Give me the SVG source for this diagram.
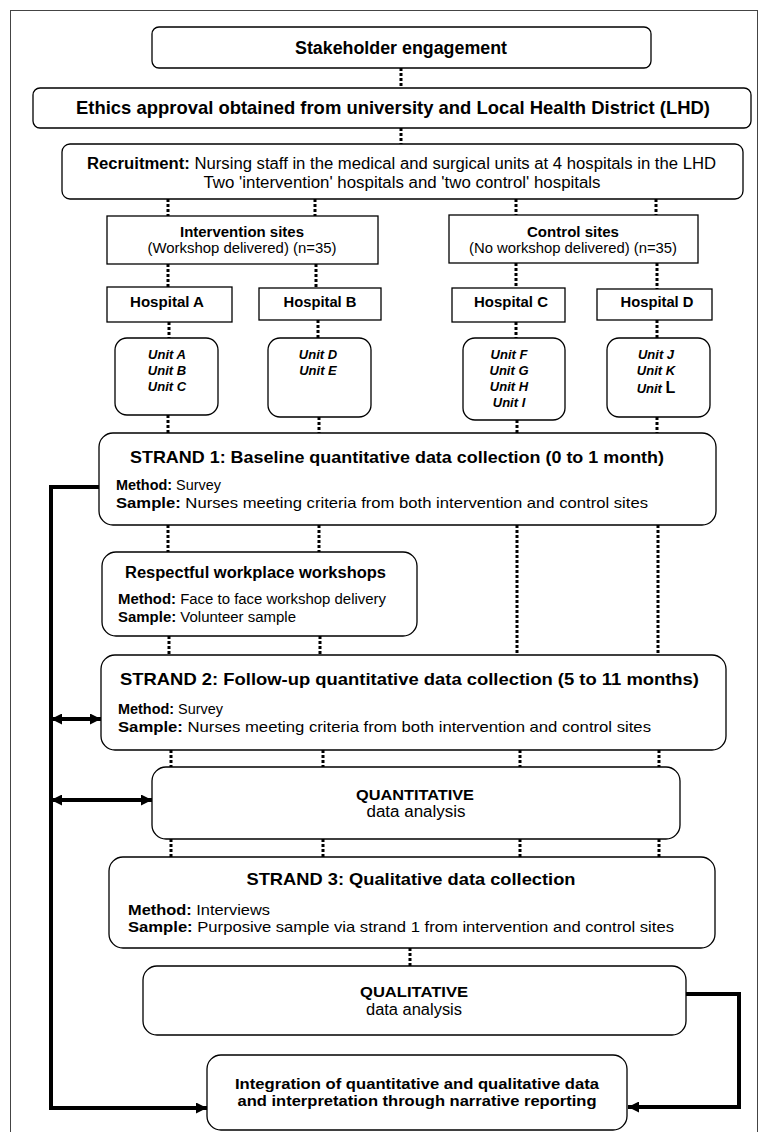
<svg xmlns="http://www.w3.org/2000/svg" width="759" height="1132" viewBox="0 0 759 1132">
<defs>
<style>
text{font-family:"Liberation Sans",Arial,sans-serif;fill:#000}
.b{font-weight:bold}
.bi{font-weight:bold;font-style:italic}
.box{fill:#fff;stroke:#000;stroke-width:1.3}
.dot{stroke:#000;stroke-width:3;stroke-dasharray:3 2;fill:none}
.thick{stroke:#000;stroke-width:4;fill:none}
.m{text-anchor:middle}
</style>
<marker id="ah" viewBox="0 0 10 10" refX="10" refY="5" markerWidth="11" markerHeight="11" markerUnits="userSpaceOnUse" orient="auto-start-reverse">
<path d="M0,0 L10,5 L0,10 z" fill="#000"/>
</marker>
</defs>
<rect x="0" y="0" width="759" height="1132" fill="#fff"/>
<rect x="10.5" y="10.5" width="747" height="1130" fill="none" stroke="#444" stroke-width="1"/>

<g id="connectors">
<line class="dot" x1="401" y1="68" x2="401" y2="88"/>
<line class="dot" x1="401" y1="128" x2="401" y2="144"/>
<line class="dot" x1="168" y1="199" x2="168" y2="216"/>
<line class="dot" x1="315" y1="199" x2="315" y2="216"/>
<line class="dot" x1="516" y1="199" x2="516" y2="215"/>
<line class="dot" x1="656" y1="199" x2="656" y2="215"/>
<line class="dot" x1="168" y1="264" x2="168" y2="287"/>
<line class="dot" x1="316" y1="264" x2="316" y2="288"/>
<line class="dot" x1="516" y1="263" x2="516" y2="288"/>
<line class="dot" x1="657" y1="263" x2="657" y2="289"/>
<line class="dot" x1="169" y1="322" x2="169" y2="338"/>
<line class="dot" x1="318" y1="320" x2="318" y2="338"/>
<line class="dot" x1="516" y1="322" x2="516" y2="338"/>
<line class="dot" x1="657" y1="320" x2="657" y2="338"/>
<line class="dot" x1="168" y1="415" x2="168" y2="433"/>
<line class="dot" x1="319" y1="417" x2="319" y2="433"/>
<line class="dot" x1="517" y1="420" x2="517" y2="433"/>
<line class="dot" x1="657" y1="417" x2="657" y2="433"/>
<line class="dot" x1="168" y1="525" x2="168" y2="552"/>
<line class="dot" x1="319" y1="525" x2="319" y2="552"/>
<line class="dot" x1="517" y1="525" x2="517" y2="655"/>
<line class="dot" x1="658" y1="525" x2="658" y2="655"/>
<line class="dot" x1="169" y1="636" x2="169" y2="655"/>
<line class="dot" x1="320" y1="636" x2="320" y2="655"/>
<line class="dot" x1="171" y1="750" x2="171" y2="767"/>
<line class="dot" x1="323" y1="750" x2="323" y2="767"/>
<line class="dot" x1="520" y1="750" x2="520" y2="767"/>
<line class="dot" x1="659" y1="750" x2="659" y2="767"/>
<line class="dot" x1="171" y1="839" x2="171" y2="857"/>
<line class="dot" x1="323" y1="839" x2="323" y2="857"/>
<line class="dot" x1="520" y1="839" x2="520" y2="857"/>
<line class="dot" x1="659" y1="839" x2="659" y2="857"/>
<line class="dot" x1="410" y1="948" x2="410" y2="966"/>
<path class="thick" d="M99,487 H51 V1108 H207" marker-end="url(#ah)"/>
<line class="thick" x1="51" y1="719" x2="101" y2="719" marker-start="url(#ah)" marker-end="url(#ah)"/>
<line class="thick" x1="51" y1="800" x2="152" y2="800" marker-start="url(#ah)" marker-end="url(#ah)"/>
<path class="thick" d="M686,994 H739 V1107 H628" marker-end="url(#ah)"/>
</g>

<g id="stakeholder">
<rect class="box" x="152" y="27" width="499" height="41" rx="7"/>
<text class="b m" x="401" y="54" font-size="18" textLength="212" lengthAdjust="spacingAndGlyphs">Stakeholder engagement</text>
</g>
<g id="ethics">
<rect class="box" x="33" y="88" width="718" height="40" rx="7"/>
<text class="b m" x="393" y="114" font-size="19" textLength="634" lengthAdjust="spacingAndGlyphs">Ethics approval obtained from university and Local Health District (LHD)</text>
</g>
<g id="recruitment">
<rect class="box" x="62" y="144" width="681" height="55" rx="8"/>
<text x="87" y="169" font-size="16" textLength="629" lengthAdjust="spacingAndGlyphs"><tspan class="b">Recruitment:</tspan> Nursing staff in the medical and surgical units at 4 hospitals in the LHD</text>
<text class="m" x="402" y="188" font-size="16" textLength="397" lengthAdjust="spacingAndGlyphs">Two 'intervention' hospitals and 'two control' hospitals</text>
</g>
<g id="intervention-sites">
<rect class="box" x="107" y="216" width="271" height="48"/>
<text class="b m" x="242" y="237" font-size="15" textLength="124" lengthAdjust="spacingAndGlyphs">Intervention sites</text>
<text class="m" x="242" y="253" font-size="15" textLength="189" lengthAdjust="spacingAndGlyphs">(Workshop delivered) (n=35)</text>
</g>
<g id="control-sites">
<rect class="box" x="449" y="215" width="249" height="48"/>
<text class="b m" x="573" y="237" font-size="15" textLength="92" lengthAdjust="spacingAndGlyphs">Control sites</text>
<text class="m" x="573" y="253" font-size="15" textLength="208" lengthAdjust="spacingAndGlyphs">(No workshop delivered) (n=35)</text>
</g>
<g id="hospital-a">
<rect class="box" x="107" y="287" width="125" height="35"/>
<text class="b m" x="167" y="307" font-size="15" textLength="74" lengthAdjust="spacingAndGlyphs">Hospital A</text>
</g>
<g id="hospital-b">
<rect class="box" x="259" y="288" width="122" height="32"/>
<text class="b m" x="320" y="307" font-size="15" textLength="73" lengthAdjust="spacingAndGlyphs">Hospital B</text>
</g>
<g id="hospital-c">
<rect class="box" x="452" y="288" width="113" height="34"/>
<text class="b m" x="511" y="307" font-size="15" textLength="74" lengthAdjust="spacingAndGlyphs">Hospital C</text>
</g>
<g id="hospital-d">
<rect class="box" x="597" y="289" width="115" height="31"/>
<text class="b m" x="657" y="307" font-size="15" textLength="73" lengthAdjust="spacingAndGlyphs">Hospital D</text>
</g>
<g id="units-abc">
<rect class="box" x="115" y="338" width="103" height="77" rx="12"/>
<text class="bi m" x="167" y="359" font-size="13">Unit A</text>
<text class="bi m" x="167" y="375" font-size="13">Unit B</text>
<text class="bi m" x="167" y="391" font-size="13">Unit C</text>
</g>
<g id="units-de">
<rect class="box" x="268" y="338" width="103" height="79" rx="12"/>
<text class="bi m" x="318" y="359" font-size="13">Unit D</text>
<text class="bi m" x="318" y="375" font-size="13">Unit E</text>
</g>
<g id="units-fghi">
<rect class="box" x="463" y="338" width="102" height="82" rx="12"/>
<text class="bi m" x="509" y="359" font-size="13">Unit F</text>
<text class="bi m" x="509" y="375" font-size="13">Unit G</text>
<text class="bi m" x="509" y="391" font-size="13">Unit H</text>
<text class="bi m" x="509" y="407" font-size="13">Unit I</text>
</g>
<g id="units-jkl">
<rect class="box" x="607" y="338" width="103" height="79" rx="12"/>
<text class="bi m" x="656" y="359" font-size="13">Unit J</text>
<text class="bi m" x="656" y="375" font-size="13">Unit K</text>
<text class="bi m" x="656" y="393" font-size="13">Unit <tspan font-size="16" font-style="normal">L</tspan></text>
</g>
<g id="strand1">
<rect class="box" x="99" y="433" width="617" height="92" rx="14"/>
<text class="b m" x="397" y="463" font-size="17" textLength="534" lengthAdjust="spacingAndGlyphs">STRAND 1: Baseline quantitative data collection (0 to 1 month)</text>
<text x="116" y="490" font-size="15" textLength="105" lengthAdjust="spacingAndGlyphs"><tspan class="b">Method:</tspan> Survey</text>
<text x="116" y="508" font-size="15" textLength="532" lengthAdjust="spacingAndGlyphs"><tspan class="b">Sample:</tspan> Nurses meeting criteria from both intervention and control sites</text>
</g>
<g id="workshops">
<rect class="box" x="102" y="552" width="315" height="84" rx="14"/>
<text class="b" x="125" y="578" font-size="16" textLength="261" lengthAdjust="spacingAndGlyphs">Respectful workplace workshops</text>
<text x="118" y="604" font-size="14" textLength="268" lengthAdjust="spacingAndGlyphs"><tspan class="b">Method:</tspan>  Face to face workshop delivery</text>
<text x="118" y="622" font-size="14" textLength="178" lengthAdjust="spacingAndGlyphs"><tspan class="b">Sample:</tspan>  Volunteer sample</text>
</g>
<g id="strand2">
<rect class="box" x="101" y="655" width="625" height="95" rx="14"/>
<text class="b" x="120" y="685" font-size="17" textLength="579" lengthAdjust="spacingAndGlyphs">STRAND 2: Follow-up quantitative data collection (5 to 11 months)</text>
<text x="118" y="714" font-size="15" textLength="105" lengthAdjust="spacingAndGlyphs"><tspan class="b">Method:</tspan> Survey</text>
<text x="118" y="732" font-size="15" textLength="533" lengthAdjust="spacingAndGlyphs"><tspan class="b">Sample:</tspan> Nurses meeting criteria from both intervention and control sites</text>
</g>
<g id="quantitative">
<rect class="box" x="152" y="767" width="528" height="72" rx="14"/>
<text class="b m" x="415" y="800" font-size="15" textLength="118" lengthAdjust="spacingAndGlyphs">QUANTITATIVE</text>
<text class="m" x="416" y="817" font-size="16" textLength="99" lengthAdjust="spacingAndGlyphs">data analysis</text>
</g>
<g id="strand3">
<rect class="box" x="109" y="857" width="606" height="91" rx="14"/>
<text class="b m" x="411" y="885" font-size="17" textLength="329" lengthAdjust="spacingAndGlyphs">STRAND 3: Qualitative data collection</text>
<text x="128" y="915" font-size="15" textLength="142" lengthAdjust="spacingAndGlyphs"><tspan class="b">Method:</tspan> Interviews</text>
<text x="128" y="932" font-size="15" textLength="546" lengthAdjust="spacingAndGlyphs"><tspan class="b">Sample:</tspan> Purposive sample via strand 1 from intervention and control sites</text>
</g>
<g id="qualitative">
<rect class="box" x="143" y="966" width="543" height="69" rx="14"/>
<text class="b m" x="414" y="997" font-size="15" textLength="108" lengthAdjust="spacingAndGlyphs">QUALITATIVE</text>
<text class="m" x="414" y="1015" font-size="16" textLength="96" lengthAdjust="spacingAndGlyphs">data analysis</text>
</g>
<g id="integration">
<rect class="box" x="207" y="1055" width="420" height="75" rx="14"/>
<text class="b m" x="417" y="1089" font-size="15" textLength="364" lengthAdjust="spacingAndGlyphs">Integration of quantitative and qualitative data</text>
<text class="b m" x="417" y="1106" font-size="15" textLength="359" lengthAdjust="spacingAndGlyphs">and interpretation through narrative reporting</text>
</g>
</svg>
